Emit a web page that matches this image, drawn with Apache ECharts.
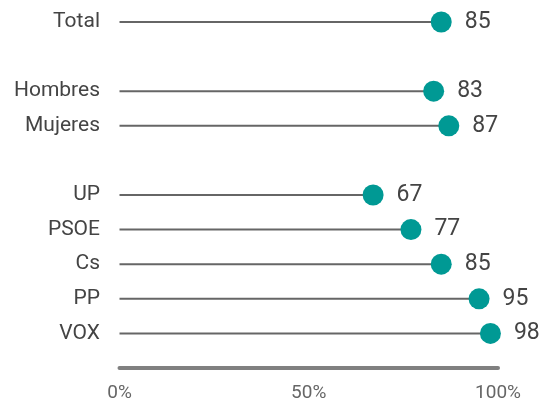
<!DOCTYPE html>
<html><head><meta charset="utf-8">
<script src="https://cdn.jsdelivr.net/npm/echarts@6/dist/echarts.min.js"></script>
<style>html,body{margin:0;padding:0;background:#fff}#c{width:548px;height:403px}</style>
</head><body><div id="c"></div>
<script>
var categories = ['Total', '', 'Hombres', 'Mujeres', ' ', 'UP', 'PSOE', 'Cs', 'PP', 'VOX', '  '];
var values = [85, null, 83, 87, null, 67, 77, 85, 95, 98, null];
var xTicks = [0, 50, 100];

var chart = echarts.init(document.getElementById('c'));
chart.setOption({
  animation: false,
  grid: {left: 119.5, right: 50, top: 22, bottom: 33.5},
  xAxis: {
    type: 'value', min: xTicks[0], max: xTicks[xTicks.length - 1], interval: 50,
    axisLine: {show: true, lineStyle: {color: '#808080', width: 4}},
    axisTick: {show: false}, splitLine: {show: false},
    axisLabel: {formatter: '{value}%', color: '#666', fontSize: 19, fontFamily: 'Roboto', margin: 16}
  },
  yAxis: {
    type: 'category', data: categories, inverse: true, boundaryGap: false,
    axisLine: {show: false}, axisTick: {show: false}, splitLine: {show: false},
    axisLabel: {color: '#444', fontSize: 21, fontFamily: 'Roboto', margin: 19.5}
  },
  series: [
    {type: 'bar', data: values, barWidth: 2, itemStyle: {color: '#666'}, silent: true},
    {type: 'scatter', data: values, symbolSize: 21, itemStyle: {color: '#009994', opacity: 1},
     label: {show: true, position: 'right', distance: 13, color: '#444', fontSize: 23, fontFamily: 'Roboto'}, z: 5}
  ]
});
</script></body></html>
